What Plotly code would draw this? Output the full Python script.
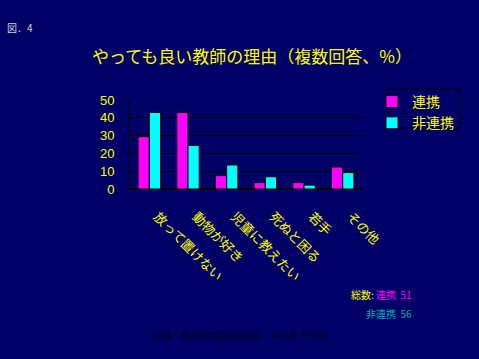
import plotly.graph_objects as go

categories = ["放って置けない", "動物が好き", "児童に教えたい", "死ぬと困る", "若手", "その他"]
renkei = [29.4, 43, 7.5, 3.6, 3.6, 12.4]
hirenkei = [43, 24.5, 13.5, 6.9, 2.2, 9.2]
y_ticks = [0, 10, 20, 30, 40, 50]

BG = "#000066"
YEL = "#ffff00"
JP = "Noto Sans CJK JP"

L, T, PW, PH = 130, 100, 232, 89


def px(x):
    return (x - L) / PW


def py(y):
    return (T + PH - y) / PH


fig = go.Figure()
fig.add_trace(go.Bar(x=categories, y=renkei, name="連携",
                     marker=dict(color="#ff00ff", line=dict(color="black", width=1))))
fig.add_trace(go.Bar(x=categories, y=hirenkei, name="非連携",
                     marker=dict(color="#00ffff", line=dict(color="black", width=1))))

fig.update_layout(
    width=479, height=359,
    paper_bgcolor=BG, plot_bgcolor=BG,
    margin=dict(l=L, r=479 - L - PW, t=T, b=359 - T - PH),
    barmode="group", bargap=0.42, bargroupgap=0,
    showlegend=True,
    legend=dict(x=px(372), y=py(86), xanchor="left", yanchor="top",
                bgcolor="rgba(0,0,0,0)", borderwidth=0,
                font=dict(family=JP, size=14, color=YEL),
                itemwidth=30, tracegroupgap=0),
    xaxis=dict(tickangle=45, tickfont=dict(family=JP, size=13, color=YEL),
               showline=True, linecolor="black", linewidth=1,
               showgrid=False, ticks="", ticklabelstandoff=14, ticklabelshift=8),
    yaxis=dict(range=[0, 50], tickvals=y_ticks,
               tickfont=dict(family="Liberation Sans", size=13, color=YEL),
               showgrid=True, gridcolor="black", gridwidth=1,
               showline=True, linecolor="black", linewidth=1,
               zeroline=True, zerolinecolor="black", ticks="", ticklabelstandoff=12),
)

fig.add_shape(type="rect", xref="paper", yref="paper",
              x0=px(388), x1=px(460), y0=py(89), y1=py(128),
              line=dict(color="black", width=1), fillcolor="rgba(0,0,0,0)", layer="below")

fig.add_annotation(text="やっても良い教師の理由（複数回答、%）", xref="paper", yref="paper",
                   x=px(252), y=py(55), xanchor="center", yanchor="middle",
                   showarrow=False, font=dict(family=JP, size=17, color=YEL))
fig.add_annotation(text="図．4", xref="paper", yref="paper",
                   x=px(5), y=py(27), xanchor="left", yanchor="middle",
                   showarrow=False, font=dict(family=JP, size=10, color="#d0d0d0"))
fig.add_annotation(text="<span style='color:#ffff00'>総数:</span> 連携  51", xref="paper", yref="paper",
                   x=px(414), y=py(294), xanchor="right", yanchor="middle",
                   showarrow=False, font=dict(family=JP, size=10, color="#ff00ff"))
fig.add_annotation(text="非連携  56", xref="paper", yref="paper",
                   x=px(414), y=py(313), xanchor="right", yanchor="middle",
                   showarrow=False, font=dict(family=JP, size=10, color="#00b0b0"))
fig.add_annotation(text="出典：教育研究会調査報告（中川直子作成）", xref="paper", yref="paper",
                   x=px(244), y=py(335), xanchor="center", yanchor="middle",
                   showarrow=False, font=dict(family=JP, size=9, color="#000020"))

fig.write_html("out.html", config={"displayModeBar": False},
               post_script="document.body.style.margin='0';document.body.style.background='#000066';")
